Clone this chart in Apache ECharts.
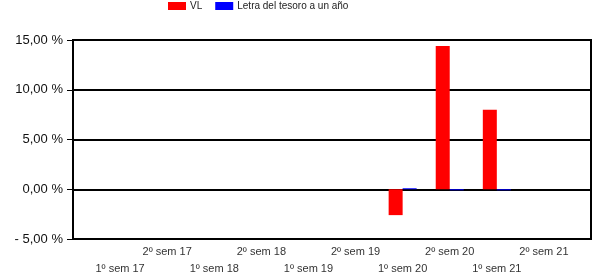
<!DOCTYPE html>
<html>
<head>
<meta charset="utf-8">
<script src="https://cdn.jsdelivr.net/npm/echarts@6/dist/echarts.min.js"></script>
<style>
  html, body { margin: 0; padding: 0; background: #fff; }
  #chart { width: 594px; height: 277px; }
</style>
</head>
<body>
<div id="chart"></div>
<script>
// semestres (con huecos vacíos a los lados)
var categories = ['', '1º sem 17', '2º sem 17', '1º sem 18', '2º sem 18', '1º sem 19', '2º sem 19', '1º sem 20', '2º sem 20', '1º sem 21', '2º sem 21', ''];
var vlValues = [null, null, null, null, null, null, null, -2.6, 14.4, 8.0, null, null];
var letraValues = [null, null, null, null, null, null, null, 0.1, -0.1, -0.1, null, null];
var seriesNames = ['VL', 'Letra del tesoro a un año'];

var chart = echarts.init(document.getElementById('chart'), null, { renderer: 'canvas' });

var options = {
  animation: false,
  textStyle: { fontFamily: 'Liberation Sans, Arial, sans-serif' },
  legend: {
    left: 168,
    top: 1,
    padding: 0,
    itemWidth: 18,
    itemHeight: 8,
    itemGap: 13,
    icon: 'rect',
    textStyle: { fontSize: 10, color: '#222', padding: [0, 0, 0, -1] },
    data: seriesNames
  },
  grid: {
    left: 73,
    right: 2,
    top: 40,
    bottom: 37,
    show: true,
    borderColor: '#000',
    borderWidth: 2,
    containLabel: false
  },
  xAxis: {
    type: 'category',
    data: categories,
    boundaryGap: false,
    axisLine: { show: false },
    axisTick: { show: false },
    splitLine: { show: false },
    axisLabel: {
      interval: 0,
      margin: 4,
      fontSize: 11,
      lineHeight: 17,
      color: '#333',
      formatter: function (v, i) {
        if (v.indexOf('1º') === 0) return '\n' + v;
        return v;
      }
    }
  },
  yAxis: {
    type: 'value',
    min: -5,
    max: 15,
    interval: 5,
    axisLine: { show: true, lineStyle: { color: '#000', width: 2 } },
    axisTick: { show: true, length: 6, lineStyle: { color: '#000', width: 1 } },
    splitLine: { show: true, lineStyle: { color: '#000', width: 2 } },
    axisLabel: {
      margin: 10,
      fontSize: 13,
      color: '#111',
      formatter: function (v) {
        var s = Math.abs(v).toFixed(2).replace('.', ',') + ' %';
        return v < 0 ? '- ' + s : s;
      }
    }
  },
  series: [
    {
      name: seriesNames[0],
      type: 'bar',
      data: vlValues,
      barWidth: 14,
      barGap: '0%',
      itemStyle: { color: '#ff0000' }
    },
    {
      name: seriesNames[1],
      type: 'bar',
      data: letraValues,
      barWidth: 14,
      itemStyle: { color: '#0000ff' }
    }
  ]
};

chart.setOption(options);
</script>
</body>
</html>
